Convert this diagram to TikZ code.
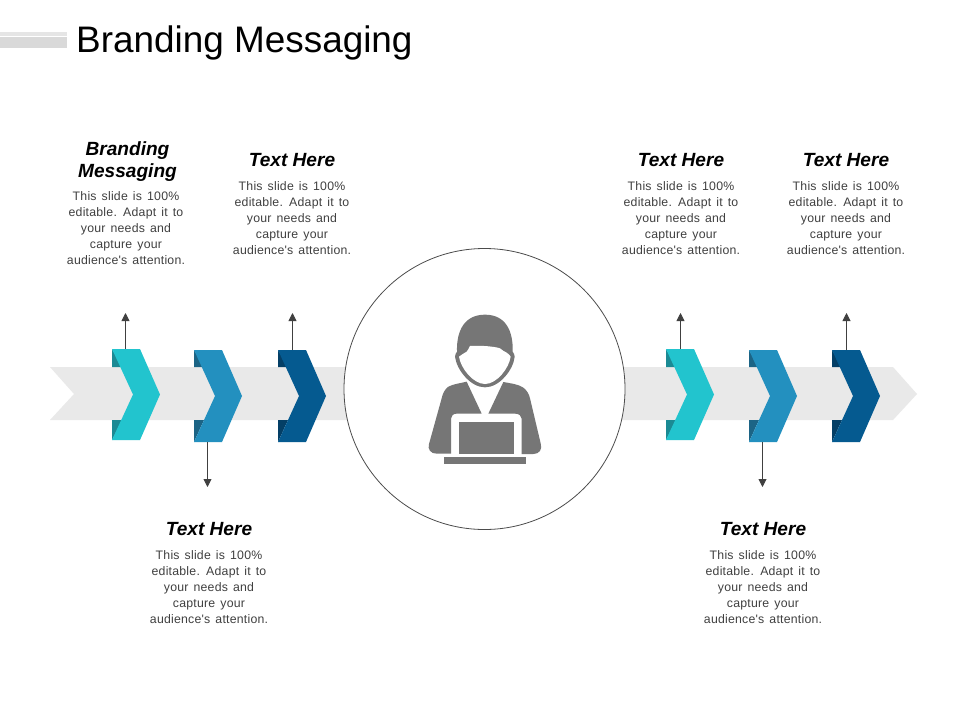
\documentclass[tikz,border=0pt]{standalone}
\usepackage{fontspec}
\setmainfont{Liberation Sans}
\newfontfamily\bodyfont[LetterSpace=1.8,WordSpace=1.4]{Liberation Sans}
\usetikzlibrary{arrows.meta}
\definecolor{teal1}{HTML}{22C4CE}
\definecolor{teal1d}{HTML}{1B8A94}
\definecolor{blue2}{HTML}{2390BF}
\definecolor{blue2d}{HTML}{1C6485}
\definecolor{navy3}{HTML}{055A90}
\definecolor{navy3d}{HTML}{043F66}
\definecolor{band}{HTML}{E9E9E9}
\definecolor{iconc}{HTML}{767676}
\tikzset{
  x=1pt,y=-1pt,
  head/.style={font=\fontsize{19.1}{22.5}\selectfont\bfseries\itshape,align=center,text=black,inner sep=0pt},
  body/.style={font=\fontsize{12.3}{16}\selectfont\bodyfont,align=center,text=black!75,inner sep=0pt},
  pointer/.style={draw=black!75,line width=.9pt,-{Triangle[length=8pt,width=8pt]}},
}
% #1 name, #2 left, #3 top, #4 bottom, #5 fill, #6 fold
\newcommand{\chev}[6]{%
  \pgfmathsetmacro{\cmid}{(#3+#4)/2}%
  \fill[#6] (#2,#3) -- (#2,367) -- (#2+10,367) -- cycle;
  \fill[#6] (#2,#4) -- (#2,420) -- (#2+10,420) -- cycle;
  \fill[#5] (#2,#3) -- (#2+28,#3) -- (#2+48,\cmid) -- (#2+28,#4) -- (#2,#4) -- (#2+21,\cmid) -- cycle;
  \coordinate (#1t) at (#2+14,#3);
  \coordinate (#1b) at (#2+14,#4);
}
\begin{document}
\begin{tikzpicture}
\useasboundingbox (0,0) rectangle (960,720);
\fill[white] (0,0) rectangle (960,720);
% title bar
\fill[black!10] (0,32) rectangle (67,35.5);
\fill[black!15] (0,36.5) rectangle (67,47.7);
\node[anchor=west,inner sep=0pt,font=\fontsize{36.9}{40}\selectfont] (title) at (76,42.5) {Branding Messaging};
% band
\fill[band] (50,367) -- (893,367) -- (917,394) -- (893,420) -- (50,420) -- (74,394) -- cycle;
% chevrons
\chev{a}{112}{349}{440}{teal1}{teal1d}
\chev{b}{194}{350}{442}{blue2}{blue2d}
\chev{c}{278}{350}{442}{navy3}{navy3d}
\chev{d}{666}{349}{440}{teal1}{teal1d}
\chev{e}{749}{350}{442}{blue2}{blue2d}
\chev{f}{832}{350}{442}{navy3}{navy3d}
% circle
\node[circle,draw=black!70,fill=white,line width=.8pt,minimum size=281pt,inner sep=0pt] (hub) at (484.5,389) {};
% person
\begin{scope}[shift={(410,300)},x=.33333pt,y=-.33333pt]
\fill[iconc] (135,170) .. controls (135,163) and (138,160) .. (141,155)
  .. controls (139,90) and (165,44) .. (225,44)
  .. controls (285,44) and (310,90) .. (308,155)
  .. controls (311,160) and (314,164) .. (314,170)
  .. controls (310,210) and (268,262) .. (225,262)
  .. controls (182,262) and (140,210) .. (135,170) -- cycle;
\fill[white] (147,170) .. controls (152,165) and (162,160) .. (170,155)
  .. controls (174,150) and (177,144) .. (180,138)
  .. controls (200,136) and (250,138) .. (270,145)
  .. controls (276,150) and (283,155) .. (290,158)
  .. controls (295,161) and (299,165) .. (302,170)
  .. controls (297,205) and (260,252) .. (225,252)
  .. controls (190,252) and (152,205) .. (147,170) -- cycle;
\fill[iconc] (115,260) .. controls (130,252) and (150,250) .. (170,245)
  -- (215,341) -- (140,341) .. controls (130,341) and (123,347) .. (123,356)
  -- (123,461) -- (80,461) .. controls (62,461) and (52,448) .. (57,432)
  -- (95,295) .. controls (98,280) and (105,267) .. (115,260) -- cycle;
\fill[iconc] (340,263) .. controls (325,252) and (300,250) .. (280,246)
  -- (235,341) -- (315,341) .. controls (327,341) and (335,347) .. (335,356)
  -- (335,462) -- (370,462) .. controls (388,462) and (398,448) .. (392,430)
  -- (360,295) .. controls (357,282) and (350,270) .. (340,263) -- cycle;
\fill[iconc] (147,365) rectangle (313,462);
\fill[iconc] (102,472) rectangle (349,492);
\end{scope}
% arrows
\coordinate (aend) at (125.5,313);
\coordinate (bend) at (207.5,487);
\coordinate (cend) at (292.5,313);
\coordinate (dend) at (680.5,313);
\coordinate (eend) at (762.5,487);
\coordinate (fend) at (846.5,313);
\draw[pointer] (at-|aend) -- (aend);
\draw[pointer] (bb-|bend) -- (bend);
\draw[pointer] (ct-|cend) -- (cend);
\draw[pointer] (dt-|dend) -- (dend);
\draw[pointer] (eb-|eend) -- (eend);
\draw[pointer] (ft-|fend) -- (fend);
% texts
\newcommand{\bodytext}{This slide is 100\%\\editable. Adapt it to\\your needs and\\capture your\\audience's attention.}
\node[head] (h1) at (127.5,161.5) {Branding\\Messaging};
\node[body] (t1) at (126,228.5) {\bodytext};
\node[head] (h2) at (292,160) {Text Here};
\node[body] (t2) at (292,218.5) {\bodytext};
\node[head] (h3) at (681,160) {Text Here};
\node[body] (t3) at (681,218.5) {\bodytext};
\node[head] (h4) at (846,160) {Text Here};
\node[body] (t4) at (846,218.5) {\bodytext};
\node[head] (h5) at (209,529) {Text Here};
\node[body] (t5) at (209,587.5) {\bodytext};
\node[head] (h6) at (763,529) {Text Here};
\node[body] (t6) at (763,587.5) {\bodytext};
\end{tikzpicture}
\end{document}
